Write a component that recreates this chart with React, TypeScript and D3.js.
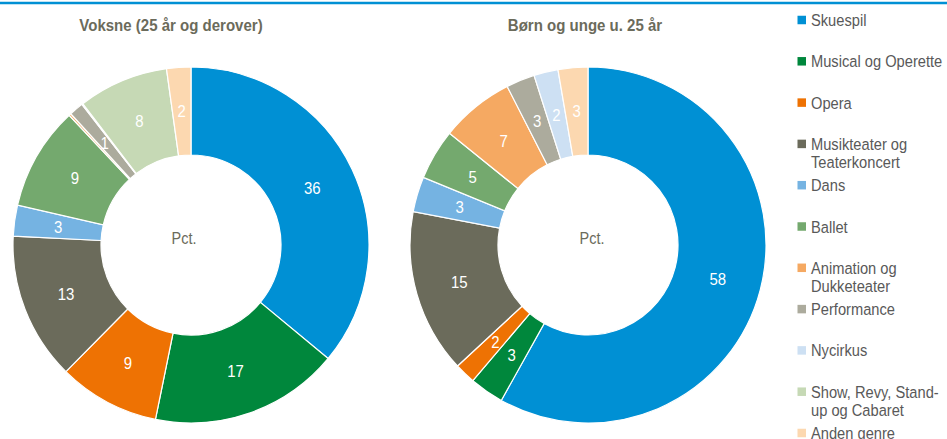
import React from "react";
import * as d3 from "d3";

const categories = [
  "Skuespil",
  "Musical og Operette",
  "Opera",
  "Musikteater og Teaterkoncert",
  "Dans",
  "Ballet",
  "Animation og Dukketeater",
  "Performance",
  "Nycirkus",
  "Show, Revy, Stand-up og Cabaret",
  "Anden genre",
];
const legendLines = [
  ["Skuespil"],
  ["Musical og Operette"],
  ["Opera"],
  ["Musikteater og", "Teaterkoncert"],
  ["Dans"],
  ["Ballet"],
  ["Animation og", "Dukketeater"],
  ["Performance"],
  ["Nycirkus"],
  ["Show, Revy, Stand-", "up og Cabaret"],
  ["Anden genre"],
];
const colors = [
  "#0090d4",
  "#00873c",
  "#ee7203",
  "#6b6b5b",
  "#75b3e2",
  "#74a96e",
  "#f5a962",
  "#acab9d",
  "#cde0f3",
  "#c6d9b5",
  "#fcd8b0",
];
const adultValues = [36, 17.2, 9.2, 13.4, 2.8, 9.4, 0.2, 1.3, 0.1, 8.2, 2.2];
const youthValues = [58.1, 3.1, 1.9, 14.9, 3.2, 4.6, 6.7, 2.6, 2.2, 0, 2.7];
const titles = ["Voksne (25 år og derover)", "Børn og unge u. 25 år"];

const FONT = '"Liberation Sans", Arial, sans-serif';

function NText({
  x,
  y,
  sx,
  children,
  anchor = "start",
  size,
  fill,
  weight = "normal",
}: {
  x: number;
  y: number;
  sx: number;
  children: React.ReactNode;
  anchor?: string;
  size: number;
  fill: string;
  weight?: string;
}) {
  return (
    <text
      transform={`translate(${x},${y}) scale(${sx},1)`}
      textAnchor={anchor}
      fontFamily={FONT}
      fontSize={size}
      fontWeight={weight}
      fill={fill}
    >
      {children}
    </text>
  );
}

function Donut({
  values,
  cx,
  cy,
  title,
  titleDx,
  pctDx,
}: {
  values: number[];
  cx: number;
  cy: number;
  title: string;
  titleDx: number;
  pctDx: number;
}) {
  const outer = 178;
  const inner = 90;
  const pie = d3.pie<number>().sort(null).value((d) => d);
  const arcs = pie(values);
  const arc = d3.arc<d3.PieArcDatum<number>>().innerRadius(inner).outerRadius(outer);
  const labelArc = d3
    .arc<d3.PieArcDatum<number>>()
    .innerRadius((inner + outer) / 2)
    .outerRadius((inner + outer) / 2);
  return (
    <g>
      <NText x={cx + titleDx} y={31} sx={0.9} anchor="middle" size={16.7} weight="bold" fill="#6b6b5b">
        {title}
      </NText>
      <g transform={`translate(${cx},${cy})`}>
        {arcs.map((a, i) =>
          a.value > 0 ? (
            <path key={i} d={arc(a) || ""} fill={colors[i]} stroke="#ffffff" strokeWidth={1.2} />
          ) : null
        )}
        {arcs.map((a, i) => {
          const v = Math.round(a.value);
          if (v < 1) return null;
          const [x, y] = labelArc.centroid(a);
          return (
            <NText key={"l" + i} x={x} y={y + 6} sx={0.88} anchor="middle" size={17} fill="#ffffff">
              {v}
            </NText>
          );
        })}
        <NText x={pctDx} y={-1} sx={0.85} anchor="middle" size={17} fill="#6b6b5b">
          Pct.
        </NText>
      </g>
    </g>
  );
}

export default function App() {
  const legendY = d3.scaleLinear().domain([0, categories.length - 1]).range([20, 433]);
  return (
    <svg width={947} height={439} style={{ position: "absolute", left: 0, top: 0 }}>
      <rect x={0} y={0} width={947} height={439} fill="#ffffff" />
      <line x1={0} x2={947} y1={3} y2={3} stroke="#0090d4" strokeWidth={2.5} />
      <Donut values={adultValues} cx={191} cy={245} title={titles[0]} titleDx={-20} pctDx={-7} />
      <Donut values={youthValues} cx={588} cy={245} title={titles[1]} titleDx={-3} pctDx={4} />
      <g>
        {categories.map((c, i) => {
          const y = legendY(i);
          return (
            <g key={c}>
              <rect x={797.5} y={y - 4.25} width={8.5} height={8.5} fill={colors[i]} />
              {legendLines[i].map((line, j) => (
                <NText key={j} x={811} y={y + 6 + j * 18} sx={0.9} size={16.3} fill="#595959">
                  {line}
                </NText>
              ))}
            </g>
          );
        })}
      </g>
    </svg>
  );
}
